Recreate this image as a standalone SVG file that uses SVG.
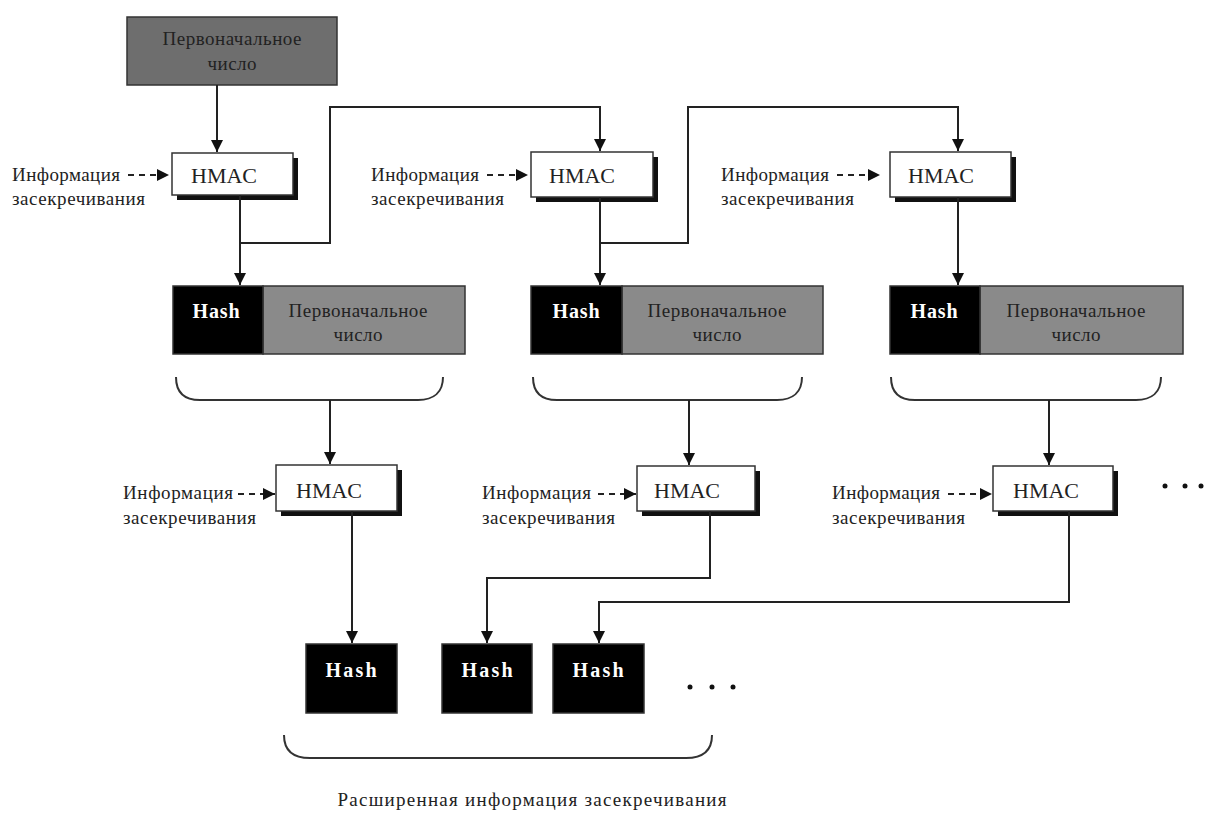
<svg xmlns="http://www.w3.org/2000/svg" width="1205" height="816" viewBox="0 0 1205 816">
<defs>
<style>
.t{font-family:"Liberation Serif","Times New Roman",serif;fill:#222;}
.lbl{font-size:19px;}
.hm{font-size:22px;fill:#222;}
.hash{font-size:20px;font-weight:bold;fill:#fff;}
.box{fill:#fff;stroke:#333;stroke-width:1.5;}
.shadow{fill:#111;}
.blk{fill:#000;stroke:#333;stroke-width:1.5;}
.gry{fill:#8a8a8a;stroke:#333;stroke-width:1.5;}
.ln{fill:none;stroke:#222;stroke-width:2;}
.dash{fill:none;stroke:#222;stroke-width:2;stroke-dasharray:6 5;}
.br{fill:none;stroke:#333;stroke-width:2;}
</style>
<marker id="ah" viewBox="0 0 10 10" refX="10" refY="5" markerWidth="6" markerHeight="6" markerUnits="strokeWidth" orient="auto">
<path d="M0,0 L10,5 L0,10 z" fill="#111"/>
</marker>
</defs>
<rect width="1205" height="816" fill="#fff"/>

<g id="start">
<rect x="127" y="17" width="210" height="68" fill="#6e6e6e" stroke="#333" stroke-width="1.5"/>
<text class="t lbl" x="232" y="45" text-anchor="middle" textLength="139">Первоначальное</text>
<text class="t lbl" x="232" y="70" text-anchor="middle" textLength="49">число</text>
</g>

<g id="hmac1">
<rect class="shadow" x="177" y="158" width="121" height="42"/>
<rect class="box" x="172" y="153" width="121" height="42"/>
<text class="t hm" x="224" y="183" text-anchor="middle" textLength="66">HMAC</text>
</g>
<g id="hmac2">
<rect class="shadow" x="536" y="157" width="122" height="45"/>
<rect class="box" x="531" y="152" width="122" height="45"/>
<text class="t hm" x="582" y="183" text-anchor="middle" textLength="66">HMAC</text>
</g>
<g id="hmac3">
<rect class="shadow" x="895" y="157" width="121" height="45"/>
<rect class="box" x="890" y="152" width="121" height="45"/>
<text class="t hm" x="941" y="183" text-anchor="middle" textLength="66">HMAC</text>
</g>

<g id="info1">
<text class="t lbl" x="12" y="181" textLength="108">Информация</text>
<text class="t lbl" x="12" y="205" textLength="133">засекречивания</text>
</g>
<g id="info2">
<text class="t lbl" x="371" y="181" textLength="108">Информация</text>
<text class="t lbl" x="371" y="205" textLength="133">засекречивания</text>
</g>
<g id="info3">
<text class="t lbl" x="721" y="181" textLength="108">Информация</text>
<text class="t lbl" x="721" y="205" textLength="133">засекречивания</text>
</g>

<g id="hashblock1">
<rect class="gry" x="263" y="286" width="202" height="68"/>
<rect class="blk" x="173" y="286" width="90" height="68"/>
<text class="t hash" x="216" y="318" text-anchor="middle" textLength="47">Hash</text>
<text class="t lbl" x="358" y="317" text-anchor="middle" textLength="139">Первоначальное</text>
<text class="t lbl" x="358" y="341" text-anchor="middle" textLength="49">число</text>
</g>
<g id="hashblock2">
<rect class="gry" x="622" y="286" width="201" height="68"/>
<rect class="blk" x="531" y="286" width="91" height="68"/>
<text class="t hash" x="576" y="318" text-anchor="middle" textLength="47">Hash</text>
<text class="t lbl" x="717" y="317" text-anchor="middle" textLength="139">Первоначальное</text>
<text class="t lbl" x="717" y="341" text-anchor="middle" textLength="49">число</text>
</g>
<g id="hashblock3">
<rect class="gry" x="980" y="286" width="203" height="68"/>
<rect class="blk" x="890" y="286" width="90" height="68"/>
<text class="t hash" x="934" y="318" text-anchor="middle" textLength="47">Hash</text>
<text class="t lbl" x="1076" y="317" text-anchor="middle" textLength="139">Первоначальное</text>
<text class="t lbl" x="1076" y="341" text-anchor="middle" textLength="49">число</text>
</g>

<g id="braces">
<path class="br" d="M176,377 C176,392 184,400 200,400 L418,400 C434,400 443,392 443,377"/>
<path class="br" d="M533,377 C533,392 541,400 557,400 L777,400 C793,400 802,392 802,377"/>
<path class="br" d="M891,377 C891,392 899,400 915,400 L1136,400 C1152,400 1161,392 1161,377"/>
<path class="br" d="M284,735 C284,750 292,758 310,758 L686,758 C704,758 712,750 712,735"/>
</g>

<g id="hmac4">
<rect class="shadow" x="281" y="470" width="121" height="46"/>
<rect class="box" x="276" y="465" width="121" height="46"/>
<text class="t hm" x="329" y="498" text-anchor="middle" textLength="66">HMAC</text>
</g>
<g id="hmac5">
<rect class="shadow" x="642" y="471" width="118" height="45"/>
<rect class="box" x="637" y="466" width="118" height="45"/>
<text class="t hm" x="687" y="498" text-anchor="middle" textLength="66">HMAC</text>
</g>
<g id="hmac6">
<rect class="shadow" x="998" y="471" width="120" height="45"/>
<rect class="box" x="993" y="466" width="120" height="45"/>
<text class="t hm" x="1046" y="498" text-anchor="middle" textLength="66">HMAC</text>
</g>

<g id="info4">
<text class="t lbl" x="123" y="499" textLength="110">Информация</text>
<text class="t lbl" x="123" y="524" textLength="133">засекречивания</text>
</g>
<g id="info5">
<text class="t lbl" x="482" y="499" textLength="109">Информация</text>
<text class="t lbl" x="482" y="524" textLength="133">засекречивания</text>
</g>
<g id="info6">
<text class="t lbl" x="832" y="499" textLength="108">Информация</text>
<text class="t lbl" x="832" y="524" textLength="133">засекречивания</text>
</g>

<g id="out1">
<rect class="blk" x="306" y="644" width="91" height="69"/>
<text class="t hash" x="351" y="677" text-anchor="middle" textLength="51">Hash</text>
</g>
<g id="out2">
<rect class="blk" x="442" y="644" width="90" height="69"/>
<text class="t hash" x="487" y="677" text-anchor="middle" textLength="51">Hash</text>
</g>
<g id="out3">
<rect class="blk" x="553" y="644" width="91" height="69"/>
<text class="t hash" x="598" y="677" text-anchor="middle" textLength="51">Hash</text>
</g>

<g id="dots">
<circle cx="690" cy="687" r="2.5" fill="#111"/>
<circle cx="712" cy="687" r="2.5" fill="#111"/>
<circle cx="733" cy="687" r="2.5" fill="#111"/>
<circle cx="1165" cy="486" r="2.5" fill="#111"/>
<circle cx="1185" cy="486" r="2.5" fill="#111"/>
<circle cx="1201" cy="486" r="2.5" fill="#111"/>
</g>

<g id="caption">
<text class="t lbl" x="532" y="806" text-anchor="middle" textLength="389">Расширенная информация засекречивания</text>
</g>

<g id="connectors">
<path class="ln" d="M217,85 V152" marker-end="url(#ah)"/>
<path class="ln" d="M240,195 V285" marker-end="url(#ah)"/>
<path class="ln" d="M240,243 H330 V107 H600 V151" marker-end="url(#ah)"/>
<path class="ln" d="M600,197 V285" marker-end="url(#ah)"/>
<path class="ln" d="M600,243 H688 V107 H958 V151" marker-end="url(#ah)"/>
<path class="ln" d="M958,197 V285" marker-end="url(#ah)"/>
<path class="ln" d="M330,400 V464" marker-end="url(#ah)"/>
<path class="ln" d="M689,400 V465" marker-end="url(#ah)"/>
<path class="ln" d="M1049,400 V465" marker-end="url(#ah)"/>
<path class="ln" d="M352,511 V643" marker-end="url(#ah)"/>
<path class="ln" d="M710,511 V578 H487 V643" marker-end="url(#ah)"/>
<path class="ln" d="M1069,511 V602 H599 V643" marker-end="url(#ah)"/>
<path class="dash" d="M128,175 H169" marker-end="url(#ah)"/>
<path class="dash" d="M487,175 H528" marker-end="url(#ah)"/>
<path class="dash" d="M837,175 H880" marker-end="url(#ah)"/>
<path class="dash" d="M238,494 H275" marker-end="url(#ah)"/>
<path class="dash" d="M598,494 H636" marker-end="url(#ah)"/>
<path class="dash" d="M948,494 H992" marker-end="url(#ah)"/>
</g>
</svg>
